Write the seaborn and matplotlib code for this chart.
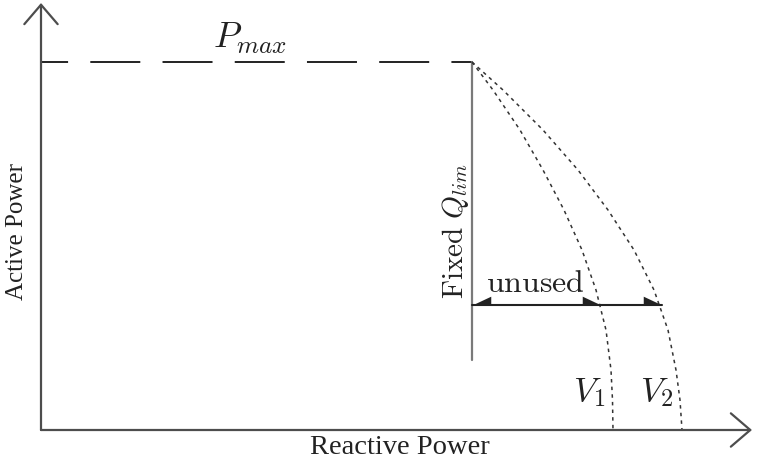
import matplotlib
matplotlib.use("Agg")
import matplotlib.pyplot as plt
import pandas as pd
import seaborn as sns

# Operating limits (diagram units: reactive power on x, active power on y)
p_max = 368
q_lim = 431
p_lim_floor = 70          # lower end of the fixed-Q limit line
p_unused = 125            # height of the "unused" margin arrow
unused_ends = [560, 621]  # where the margin arrow meets the V1 / V2 curves
axis_x_end = 711
axis_y_end = 427

# Capability curves for the two voltage levels
curve_p = [368, 340, 300, 260, 220, 180, 140, 100, 60, 30, 0]
v1_q = [431, 452, 479, 502, 523, 541, 555, 565, 570, 571.5, 572]
v2_q = [431, 462, 502, 537, 567, 593, 613, 627, 635, 639, 641]
curve_names = ["$V_1$", "$V_2$"]

sns.set_theme(style="white", rc={"lines.scale_dashes": False})
plt.rcParams["font.family"] = ["Liberation Serif", "DejaVu Serif"]
plt.rcParams["mathtext.fontset"] = "cm"

axis_color = "#4d4d4d"
ink = "#222222"

fig = plt.figure(figsize=(7.61, 4.61), dpi=100)
ax = fig.add_axes([0, 0, 1, 1])
ax.set_xlim(-41, 720)
ax.set_ylim(-31, 430)
ax.axis("off")

# Axes drawn as open-headed arrows
arrow_kw = dict(arrowstyle="->,head_length=0.7,head_width=0.6", color=axis_color,
                lw=1.6, mutation_scale=20, shrinkA=0, shrinkB=0)
ax.annotate("", xy=(axis_x_end, 0), xytext=(0, 0), arrowprops=arrow_kw)
ax.annotate("", xy=(0, axis_y_end), xytext=(0, 0), arrowprops=arrow_kw)

# P_max level
ax.plot([0, q_lim], [p_max, p_max], color=ink, lw=1.4,
        linestyle=(16.5, (36, 16)))
ax.text(172, 382, r"$P_{max}$", fontsize=26, ha="left", va="baseline", color=ink)

# Fixed reactive-power limit
ax.plot([q_lim, q_lim], [p_lim_floor, p_max], color="#7a7a7a", lw=1.6)
ax.text(422, 199, r"$\mathrm{Fixed}\ Q_{lim}$", rotation=90, rotation_mode="anchor",
        ha="center", va="baseline", fontsize=21, color=ink)

# Voltage-dependent capability curves
for q_vals in (v1_q, v2_q):
    sns.lineplot(x=q_vals, y=curve_p, sort=False, estimator=None, color="#333333",
                 lw=1.1, ax=ax, legend=False)
    ax.lines[-1].set_linestyle((0, (2.5, 3)))
for name, x0 in zip(curve_names, [532, 599]):
    ax.text(x0, 29, name, fontsize=25, ha="left", va="baseline", color=ink)

# Unused margin arrow with half heads
head_right = [(0, 0), (-1, 0), (-1, 0.47), (0, 0)]
head_left = [(0, 0), (1, 0), (1, 0.47), (0, 0)]
ax.plot([q_lim, unused_ends[-1]], [p_unused, p_unused], color=ink, lw=1.5)
ax.plot([q_lim], [p_unused], marker=head_left, ms=27, mew=0, color=ink, ls="none")
ax.plot(unused_ends, [p_unused] * len(unused_ends), marker=head_right, ms=27, mew=0,
        color=ink, ls="none")
ax.text(494, 138, r"$\mathrm{unused}$", ha="center", va="baseline", fontsize=23, color=ink)

# Axis titles
ax.text(359, -24, "Reactive Power", ha="center", va="baseline", fontsize=20.5, color=ink)
ax.text(-18, 199, "Active Power", rotation=90, rotation_mode="anchor",
        ha="center", va="baseline", fontsize=18, color=ink)

fig.savefig("out.png", dpi=100)
